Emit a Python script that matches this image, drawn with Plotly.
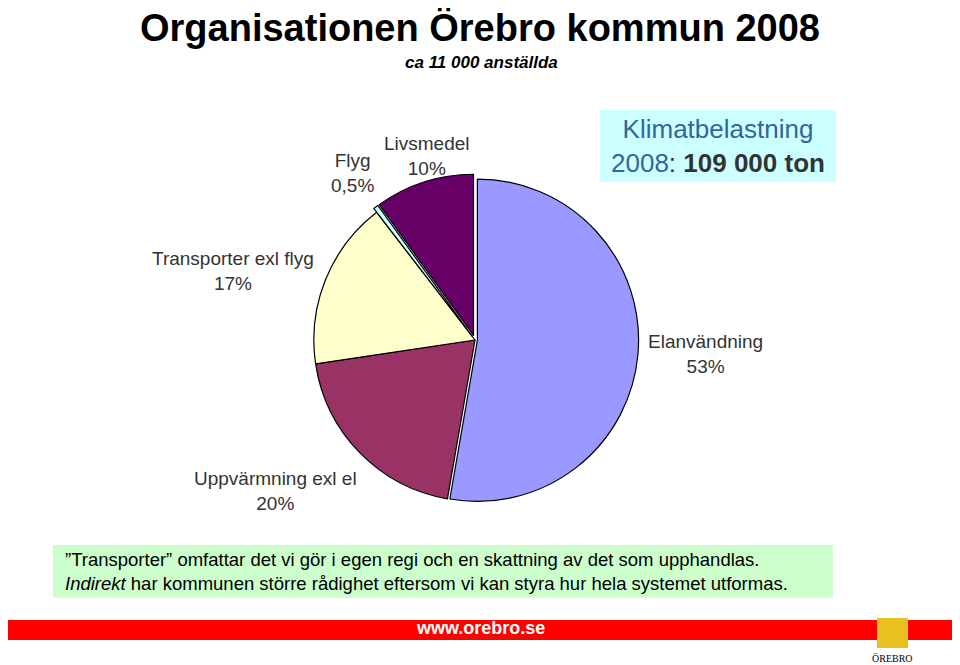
import plotly.graph_objects as go

categories = ['Elanvändning', 'Uppvärmning exl el', 'Transporter exl flyg', 'Flyg', 'Livsmedel']
shares = [53, 20, 17, 0.5, 10]
colors = ['#9999FF', '#993366', '#FFFFCC', '#CCFFFF', '#660066']

# page has an 8px body margin, so the figure is shrunk and coordinates shifted
OFF = 8
W, H = 952, 657


def px(x, y):
    return (x - OFF) / W, 1 - (y - OFF) / H


d0 = px(309, 506)
d1 = px(641, 174)
fig = go.Figure(go.Pie(
    labels=categories, values=shares, sort=False, direction='clockwise', rotation=0,
    marker=dict(colors=colors, line=dict(color='black', width=1.2)),
    pull=[0.015, 0, 0, 0.03, 0.03],
    textinfo='none', hoverinfo='label+percent', showlegend=False,
    domain=dict(x=[d0[0], d1[0]], y=[d0[1], d1[1]]),
))

font = dict(family='Liberation Sans, Arial', color='#333333', size=19)
labels = [
    ('Flyg<br>0,5%', 352, 173),
    ('Livsmedel<br>10%', 427, 156),
    ('Transporter exl flyg<br>17%', 233, 271),
    ('Elanvändning<br>53%', 705, 354),
    ('Uppvärmning exl el<br>20%', 275, 491),
]
ann = []


def note(text, x, y, f, **kw):
    xx, yy = px(x, y)
    d = dict(text=text, x=xx, y=yy, xref='paper', yref='paper', showarrow=False,
             font=f, xanchor='center', yanchor='middle')
    d.update(kw)
    ann.append(d)


for t, x, y in labels:
    note(t, x, y, font)

note('<b>Organisationen Örebro kommun 2008</b>', 480, 28,
     dict(family='Liberation Sans, Arial', size=38, color='black'))
note('<b><i>ca 11 000 anställda</i></b>', 481, 62,
     dict(family='Liberation Sans, Arial', size=17, color='black'))
note('<span style="color:#336699">Klimatbelastning</span><br>'
     '<span style="color:#336699">2008</span>: <b>109 000 ton</b>', 718, 146,
     dict(family='Liberation Sans, Arial', size=26, color='#333333'))
note('”Transporter” omfattar det vi gör i egen regi och en skattning av det som upphandlas.<br>'
     '<i>Indirekt</i> har kommunen större rådighet eftersom vi kan styra hur hela systemet utformas.',
     63, 571, dict(family='Liberation Sans, Arial', size=18.5, color='black'), xanchor='left', align='left')
note('<b>www.orebro.se</b>', 480, 628, dict(family='Liberation Sans, Arial', size=18, color='white'))
note('ÖREBRO', 892, 658, dict(family='Liberation Serif, serif', size=10, color='black'))


def rect(x0, y0, x1, y1, fill):
    a0, b0 = px(x0, y0)
    a1, b1 = px(x1, y1)
    return dict(type='rect', xref='paper', yref='paper', x0=a0, y0=b0, x1=a1, y1=b1,
                fillcolor=fill, line=dict(width=0), layer='below')


shapes = [
    rect(600, 110, 836, 182, '#CCFFFF'),
    rect(53, 545, 833, 598, '#CCFFCC'),
    rect(8, 620, 960, 640, '#FF0000'),
    rect(877, 618, 908, 648, '#E8C020'),
]

fig.update_layout(width=W, height=H, margin=dict(l=0, r=0, t=0, b=0),
                  paper_bgcolor='white', annotations=ann, shapes=shapes)
fig.write_html('out.html')
